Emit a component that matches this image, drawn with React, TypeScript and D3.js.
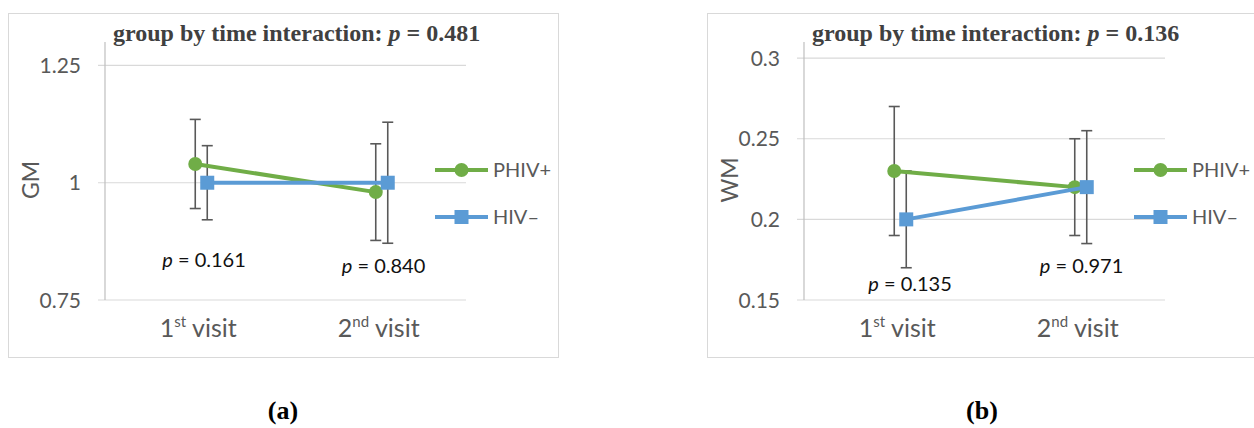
import React from 'react';
import * as d3 from 'd3';

// ---------- data ----------
const categories = ['1st', '2nd'];
const seriesNames = ['PHIV+', 'HIV–'];

const gmPHIV = [1.04, 0.98];
const gmPHIVErr = [0.095, 0.103];
const gmHIV = [1.0, 1.0];
const gmHIVErr = [0.079, 0.129];
const gmTicks = [0.75, 1, 1.25];
const gmTickLabels = ['0.75', '1', '1.25'];
const gmDomain = [0.75, 1.3];
const gmInteractionP = '0.481';
const gmVisitP = ['0.161', '0.840'];

const wmPHIV = [0.23, 0.22];
const wmPHIVErr = [0.04, 0.03];
const wmHIV = [0.2, 0.22];
const wmHIVErr = [0.03, 0.035];
const wmTicks = [0.15, 0.2, 0.25, 0.3];
const wmTickLabels = ['0.15', '0.2', '0.25', '0.3'];
const wmDomain = [0.15, 0.31];
const wmInteractionP = '0.136';
const wmVisitP = ['0.135', '0.971'];

// ---------- style ----------
const GREEN = '#70AD47';
const BLUE = '#5B9BD5';
const GRAY_TEXT = '#595959';
const SANS = 'Lato, "Liberation Sans", sans-serif';
const SERIF = '"Liberation Serif", "DejaVu Serif", serif';

type PanelProps = {
  dx: number;
  yLabel: string;
  domain: number[];
  ticks: number[];
  tickLabels: string[];
  phiv: number[];
  phivErr: number[];
  hiv: number[];
  hivErr: number[];
  interactionP: string;
  visitP: string[];
  pLayout: { ox: number; base: number }[];
  tag: string;
};

function Panel(p: PanelProps) {
  const left = 105, right = 466, top = 42, bottom = 300;
  const x = d3.scalePoint<string>().domain(categories).range([left, right]).padding(0.5);
  const y = d3.scaleLinear().domain(p.domain).range([bottom, top]);
  const offsets = [0, 12];
  const colors = [GREEN, BLUE];
  const vals = [p.phiv, p.hiv];
  const errs = [p.phivErr, p.hivErr];
  const line = d3.line<number>()
    .x((_, i) => (x(categories[i]) as number))
    .y((v) => y(v));

  return (
    <g transform={`translate(${p.dx},0)`}>
      <rect x={8.5} y={13.5} width={550} height={344} fill="#fff" stroke="#d9d9d9" strokeWidth={1} />
      {/* gridlines & ticks */}
      {p.ticks.map((t, i) => (
        <g key={i}>
          <line x1={left - 7} x2={right} y1={y(t)} y2={y(t)} stroke="#d9d9d9" strokeWidth={1.2} />
          <text x={left - 24} y={y(t)} dy="0.36em" textAnchor="end" fontFamily={SANS} fontSize={21} fill={GRAY_TEXT}>
            {p.tickLabels[i]}
          </text>
        </g>
      ))}
      <line x1={left} x2={left} y1={top} y2={bottom} stroke="#bfbfbf" strokeWidth={1.2} />
      {/* y label */}
      <text transform={`translate(${left - 74},180) rotate(-90)`} textAnchor="middle" dy="0.36em" fontFamily={SANS} fontSize={23} fill={GRAY_TEXT}>
        {p.yLabel}
      </text>
      {/* title */}
      <text x={113} y={41} fontFamily={SERIF} fontWeight="bold" fontSize={24} fill="#404040">
        group by time interaction: <tspan fontStyle="italic">p</tspan> = {p.interactionP}
      </text>
      {/* category labels */}
      {categories.map((c) => (
        <text key={c} x={(x(c) as number) + 3} y={337} textAnchor="middle" fontFamily={SANS} fontSize={25} fill={GRAY_TEXT}>
          {c.slice(0, 1)}
          <tspan fontSize={15} dy={-10}>{c.slice(1)}</tspan>
          <tspan dy={10}> visit</tspan>
        </text>
      ))}
      {/* error bars */}
      {vals.map((vs, s) =>
        vs.map((v, i) => {
          const cx = (x(categories[i]) as number) + offsets[s];
          const y1 = y(v + errs[s][i]);
          const y2 = y(v - errs[s][i]);
          return (
            <g key={`e${s}${i}`} stroke="#595959" strokeWidth={1.6}>
              <line x1={cx} x2={cx} y1={y1} y2={y2} />
              <line x1={cx - 5.5} x2={cx + 5.5} y1={y1} y2={y1} />
              <line x1={cx - 5.5} x2={cx + 5.5} y1={y2} y2={y2} />
            </g>
          );
        })
      )}
      {/* lines and markers */}
      {vals.map((vs, s) => (
        <g key={`s${s}`} transform={`translate(${offsets[s]},0)`}>
          <path d={line(vs) as string} fill="none" stroke={colors[s]} strokeWidth={4} />
          {vs.map((v, i) => {
            const cx = x(categories[i]) as number;
            const cy = y(v);
            return s === 0 ? (
              <circle key={i} cx={cx} cy={cy} r={7} fill={GREEN} />
            ) : (
              <rect key={i} x={cx - 7} y={cy - 7} width={14} height={14} fill={BLUE} />
            );
          })}
        </g>
      ))}
      {/* p-values per visit */}
      {p.visitP.map((pv, i) => (
        <text key={i} x={(x(categories[i]) as number) + p.pLayout[i].ox} y={p.pLayout[i].base} fontFamily={SANS} fontSize={20} fill="#111">
          <tspan fontStyle="italic">p</tspan> = {pv}
        </text>
      ))}
      {/* legend */}
      {seriesNames.map((n, s) => {
        const ly = s === 0 ? 170 : 217;
        return (
          <g key={n}>
            <line x1={435} x2={488} y1={ly} y2={ly} stroke={colors[s]} strokeWidth={4} />
            {s === 0 ? (
              <circle cx={461.5} cy={ly} r={7} fill={GREEN} />
            ) : (
              <rect x={461.5 - 7} y={ly - 7} width={14} height={14} fill={BLUE} />
            )}
            <text x={493} y={ly} dy="0.36em" fontFamily={SANS} fontSize={20} fill={GRAY_TEXT}>
              {n}
            </text>
          </g>
        );
      })}
      {/* panel tag */}
      <text x={283} y={419} textAnchor="middle" fontFamily={SERIF} fontWeight="bold" fontSize={26} fill="#000">
        {p.tag}
      </text>
    </g>
  );
}

export default function App() {
  return (
    <svg width={1254} height={428} style={{ position: 'absolute', left: 0, top: 0, background: '#fff' }}>
      <rect x={0} y={0} width={1254} height={428} fill="#fff" />
      <Panel
        dx={0}
        yLabel="GM"
        domain={gmDomain}
        ticks={gmTicks}
        tickLabels={gmTickLabels}
        phiv={gmPHIV}
        phivErr={gmPHIVErr}
        hiv={gmHIV}
        hivErr={gmHIVErr}
        interactionP={gmInteractionP}
        visitP={gmVisitP}
        pLayout={[{ ox: -33, base: 267 }, { ox: -34, base: 273 }]}
        tag="(a)"
      />
      <Panel
        dx={699}
        yLabel="WM"
        domain={wmDomain}
        ticks={wmTicks}
        tickLabels={wmTickLabels}
        phiv={wmPHIV}
        phivErr={wmPHIVErr}
        hiv={wmHIV}
        hivErr={wmHIVErr}
        interactionP={wmInteractionP}
        visitP={wmVisitP}
        pLayout={[{ ox: -26, base: 291 }, { ox: -35, base: 273 }]}
        tag="(b)"
      />
    </svg>
  );
}
